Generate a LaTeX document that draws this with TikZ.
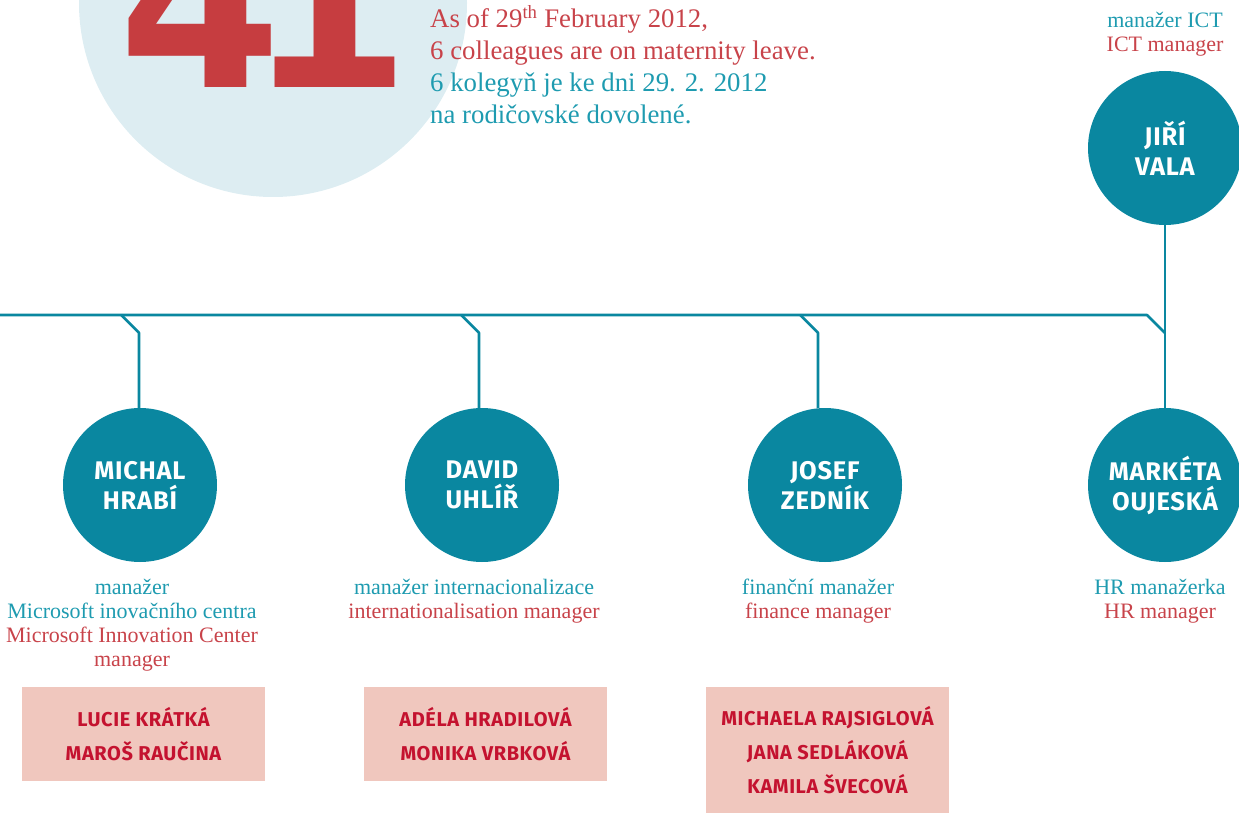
\documentclass[tikz,border=0pt]{standalone}
\usepackage{fontspec}
\usepackage{xcolor}
\usetikzlibrary{positioning}
\newfontfamily\namefont{Fira Sans}[LetterSpace=3]
\newfontfamily\numfont{DejaVu Sans}
\newfontfamily\bodyfont{Liberation Serif}
\definecolor{ring}{HTML}{0A87A0}
\definecolor{tealtext}{HTML}{1E9BB0}
\definecolor{redtext}{HTML}{C8434A}
\definecolor{numred}{HTML}{C63D40}
\definecolor{paleblue}{HTML}{DDEDF2}
\definecolor{boxfill}{HTML}{F0C7BE}
\definecolor{boxtext}{HTML}{C4122F}

\begin{document}
\begin{tikzpicture}[line cap=round,line join=round,x=1pt,y=-1pt,
  person/.style={circle,fill=ring,minimum size=154pt,inner sep=0pt,text=white,align=center,
    font=\namefont\bfseries\fontsize{25.5}{30}\selectfont},
  staff/.style={fill=boxfill,minimum width=243pt,inner sep=0pt,text=boxtext,align=center,anchor=north,
    font=\namefont\bfseries\fontsize{20}{34}\selectfont},
  role/.style={align=center,inner sep=0pt,font=\bodyfont\fontsize{22}{24}\selectfont},
  bus/.style={draw=ring,line width=2.6pt,line cap=butt}]
\useasboundingbox (0,0) rectangle (1239,813);
\clip (0,0) rectangle (1239,813);
% head count
\fill[paleblue] (273,3) circle (194pt);
\node[font=\numfont\bfseries\fontsize{235}{235}\selectfont,text=numred,anchor=base west,inner sep=0pt] (count) at (118,88) {4\kern-34pt1};
\node[anchor=north west,align=left,inner sep=0pt,font=\bodyfont\fontsize{26.8}{32}\selectfont] (note) at (430,5)
  {\textcolor{redtext}{As of 29\textsuperscript{th} February 2012,}\\
   \textcolor{redtext}{6 colleagues are on maternity leave.}\\
   \textcolor{tealtext}{6 kolegyň je ke dni 29. 2. 2012}\\
   \textcolor{tealtext}{na rodičovské dovolené.}};
% managers
\node[person] (vala) at (1165,148) {JIŘÍ\\VALA};
\node[person] (hrabi) at (140,485) {MICHAL\\HRABÍ};
\node[person] (uhlir) at (482,485) {DAVID\\UHLÍŘ};
\node[person] (zednik) at (825,485) {JOSEF\\ZEDNÍK};
\node[person] (oujeska) at (1165,485) {MARKÉTA\\OUJESKÁ};
% connectors
\coordinate (busW) at (0,315);
\coordinate (knee) at (1165,333);
\draw[bus] (busW) -- ([shift={(-18,-18)}]knee) -- (knee);
\draw[bus] (vala) -- (oujeska);
\foreach \n/\dx in {hrabi/-1,uhlir/-3,zednik/-7}
  \draw[bus] ([xshift=\dx pt]\n.north) -- ++(0,-75) -- ++(-18,-18);
% roles
\node[role,above=14pt of vala] (valaR)
  {\textcolor{tealtext}{manažer ICT}\\\textcolor{redtext}{ICT manager}};
\node[role,below=17pt of hrabi,xshift=-8pt] (hrabiR)
  {\textcolor{tealtext}{manažer}\\\textcolor{tealtext}{Microsoft inovačního centra}\\
   \textcolor{redtext}{Microsoft Innovation Center}\\\textcolor{redtext}{manager}};
\node[role,below=17pt of uhlir,xshift=-8pt] (uhlirR)
  {\textcolor{tealtext}{manažer internacionalizace}\\\textcolor{redtext}{internationalisation manager}};
\node[role,below=17pt of zednik,xshift=-7pt] (zednikR)
  {\textcolor{tealtext}{finanční manažer}\\\textcolor{redtext}{finance manager}};
\node[role,below=17pt of oujeska,xshift=-5pt] (oujeskaR)
  {\textcolor{tealtext}{HR manažerka}\\\textcolor{redtext}{HR manager}};
% teams
\node[staff,minimum height=94pt] (hrabiS) at (143.5,687) {LUCIE KRÁTKÁ\\MAROŠ RAUČINA};
\node[staff,minimum height=94pt] (uhlirS) at (485.5,687) {ADÉLA HRADILOVÁ\\MONIKA VRBKOVÁ};
\node[staff,minimum height=126pt] (zednikS) at (827.5,687) {MICHAELA RAJSIGLOVÁ\\JANA SEDLÁKOVÁ\\KAMILA ŠVECOVÁ};
\end{tikzpicture}
\end{document}
